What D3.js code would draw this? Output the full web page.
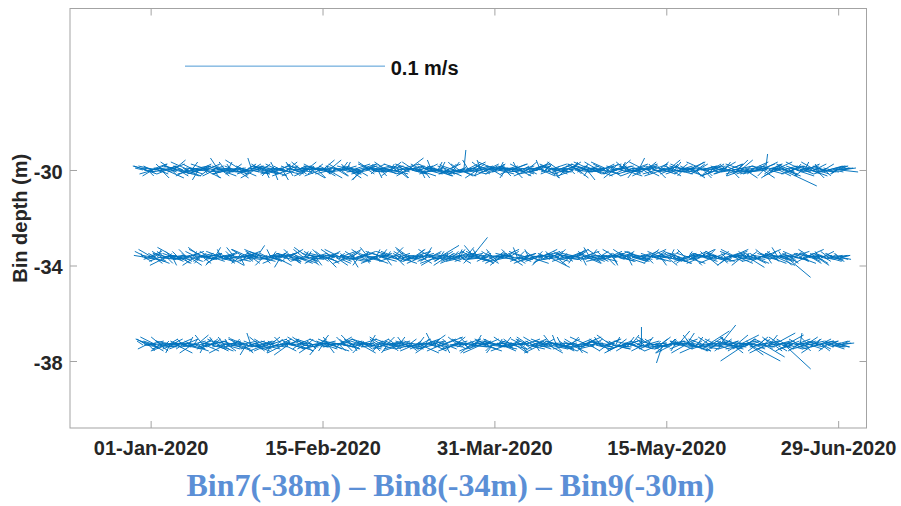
<!DOCTYPE html>
<html>
<head>
<meta charset="utf-8">
<script src="https://cdn.jsdelivr.net/npm/d3@7"></script>
<style>
  body { margin: 0; background: #fff; }
  svg { display: block; }
</style>
</head>
<body>
<svg id="chart" width="901" height="506"></svg>
<script>
// ---- Data -------------------------------------------------------------
// Current vectors (mm/s, east u / north v).
// "_a" arrays hold the 00:00/12:00 UTC samples, "_b" arrays the 06:00/18:00 UTC samples,
// both running every 12 h from sampleStart.
const sampleStart = "2019-12-30T00:00:00Z";
const sampleStepHours = 12;
const sampleOffsetHours = 6;

const binNames = ["Bin7", "Bin8", "Bin9"];
const binNominalDepths = [-38, -34, -30];     // depth named in the caption (m)
const binRowDepths = [-37.33, -33.66, -30];   // depth where each row of sticks is anchored (m)

const depthTicks = [-30, -34, -38];
const dateTicks = ["2020-01-01", "2020-02-15", "2020-03-31", "2020-05-15", "2020-06-29"];

const referenceSpeed = 0.1;                    // m/s, length of the key arrow
const referenceDate = "2020-01-10T00:00:00Z";
const referenceDepth = -25.65;

const bin9U_a = [
  -4, 6, -7, 3, 8, -5, 2, -9, 5, 7, -3, -6, 9, 4, -8, 2, 6, -4, -7, 10,
  3, -5, 8, -2, -9, 6, 4, -6, 11, -3, 5, -8, 2, 7, -4, -10, 6, 3, -5, 8,
  -6, 4, 9, -3, -7, 5, -2, 8, -5, 6, -9, 3, 7, -4, 5, -6, 10, -2, -8, 4,
  6, -3, -5, 9, 2, -7, 4, 8, -6, -2, 7, -9, 5, 3, -4, 6, -8, 11, -3, 5,
  -7, 4, 6, -5, 8, -3, -9, 2, 7, -6, 4, 9, -4, -8, 6, 3, -5, 7, -2, -10,
  8, -4, 5, -7, 3, 9, -6, -3, 6, 4, -8, 2, 10, -5, -4, 7, -9, 5, 3, -6,
  4, -8, 7, 2, -5, 9, -3, -6, 8, -4, 5, -7, 3, 11, -9, 4, -2, 6, -5, 8,
  -3, 7, -6, 5, 9, -4, -8, 3, 6, -5, 10, -2, -7, 4, 8, -6, 2, -9, 5, 7,
  -5, 3, 8, -6, -4, 9, 2, -7, 1, 6, -3, 8, -9, 4, 5, -6, 7, -2, -8, 10,
  6, -4, -7, 5, 3, -9, 8, 2, -5, 7, -3, -6, 9, 4, -8, 5, -2, 6, -7, 3,
  -8, 5, 4, -6, 9, -3, 7, -5, -2, 8, -9, 3, 6, -4, 10, -7, 2, 5, -6, 4,
  7, -3, -8, 6, 2, -5, 9, -4, 5, -7, 3, 8, -6, -2, 7, -9, 4, 6, -5, 11,
  -4, 8, -6, 3, -9, 5, 7, -2, -7, 6, 4, -8, 9, -5, 3, -6, 8, -3, 5, -7,
  9, -5, 3, -8, 6, 4, -6, 10, -3, -7, 5, 2, -9, 7, -4, 6, -5, 3, 8, -6,
  -6, 4, 7, -3, -8, 9, -5, 2, 6, -7, 4, -4, 8, 5, -9, 3, -6, 7, -2, 5,
  5, -9, 3, 7, -4, -6, 8, -5, 4, 10, -7, 3, -3, 6, -8, 5, 2, -6, 9, -4,
  -7, 6, 4, -5, 8, -3, 1, -8, 7, 5, -6, 3, -9, 6, -4, 17, 8, -5, 3, -7,
  6, -4, 9, -6, 3, -8, 5, 7, -3, -5, 8, 4, -7, 6, -2, 9, -5, 3, -6, 7,
  -4, 6, 8, -3, 5, 9, 7
];
const bin9V_a = [
  1, -2, 2, -1, 3, -3, 1, 2, -2, 0, 3, -1, -4, 2, 1, -2, 5, -1, 2, -3,
  -1, 2, -3, 1, 4, -2, 0, 3, -1, -5, 2, 1, -2, 3, -3, 1, 2, -4, 1, -1,
  2, -3, 1, 4, -2, -1, 3, -2, 2, -4, 1, 0, -3, 2, 3, -1, -2, 6, -1, 2,
  -2, 1, 3, -2, -4, 2, 1, -3, 2, 4, -1, -2, 3, -5, 1, 2, -3, 1, 4, -2,
  -3, 2, -1, 4, 1, -3, 2, -2, -4, 1, 3, -1, 2, -3, 5, -2, 1, -4, 2, 1,
  2, -1, -3, 2, 4, -2, 1, 3, -4, -1, 2, -2, 3, 1, -5, 2, -1, 3, -2, 4,
  -1, 3, 2, -4, 1, -2, 3, -1, 2, -3, 4, 1, -2, 3, -1, -4, 2, 1, -3, 2,
  1, -2, 4, -1, -3, 2, 1, -4, 3, 2, -1, 5, -2, 1, -3, 2, 4, -1, -2, 3,
  -2, 3, -1, 2, 4, -3, 1, -2, 10, 3, -1, 4, -2, 1, 3, -4, 2, 5, -1, 2,
  3, -1, 2, -3, 1, 4, -2, 3, -1, 2, -4, 1, 3, -2, 2, -1, 4, -3, 1, 2,
  -1, 4, -2, 1, 3, -3, 2, -1, 5, -2, 1, 3, -4, 2, -1, 3, 2, -2, 4, -1,
  2, -3, 1, 4, -2, 1, -1, 3, -4, 2, 3, -1, 2, -3, 1, 4, -2, 1, -1, 3,
  1, -2, 3, -1, 4, -3, 2, 1, -2, 5, -1, 2, -3, 4, 1, -2, 3, -4, 2, -1,
  3, -1, -2, 4, -3, 2, 1, -1, 3, -2, 4, 1, -3, 2, -1, 5, -2, 3, -1, 2,
  -2, 3, 1, -3, 2, 4, -1, 2, -4, 1, 3, -2, 2, -1, 4, -3, 1, 2, -2, 3,
  1, -3, 2, 4, -1, -2, 3, 1, -4, 2, -1, 3, -2, 5, -3, 1, 2, -2, 4, -1,
  -2, 1, 3, -1, 4, -3, 8, 2, -2, 3, -4, 1, 2, -3, 1, -8, -3, 2, -1, 3,
  2, -1, -3, 2, 1, 4, -2, 3, -1, 2, -3, 1, 4, -2, 3, -1, 2, -3, 1, 2,
  -1, 2, 1, -2, 2, -1, 1
];
const bin9U_b = [
  5, -6, 3, 8, -4, -7, 6, 2, -9, 4, 7, -3, -5, 8, 3, -6, 9, -2, 5, -8,
  -4, 7, 2, -6, 9, 3, -8, 5, -3, 6, -7, 4, 8, -2, -9, 5, 3, -6, 7, -4,
  8, -3, -6, 5, 2, -9, 7, 4, -5, 3, 6, -8, 2, 9, -4, -6, 5, 3, -7, 6,
  -5, 9, 4, -7, 6, -3, -8, 5, 2, 7, -6, 3, -4, 8, -9, 5, 2, -5, 6, -3,
  7, -6, 3, 9, -4, 5, -7, 2, 8, -3, -6, 4, 7, -9, 3, 5, -4, 6, -8, 2,
  -3, 8, -5, 4, 7, -8, 2, 6, -4, 9, 3, -7, 5, -2, 8, -6, 4, 3, -9, 7,
  6, -2, -7, 9, 3, -5, 8, -6, 4, 2, -8, 7, -3, 5, 6, -9, 3, -4, 8, -5,
  4, -9, 6, -3, 7, 2, -6, 5, 8, -4, 3, -7, 9, -5, 2, 6, -8, 4, -3, 7,
  -6, 5, 3, -8, 9, -4, 6, 2, -7, 5, -3, 8, 4, -9, 6, -2, 7, -5, 3, 9,
  -7, 4, 8, -3, 5, -6, 2, 9, -8, 3, 6, -4, -5, 7, 4, -9, 8, 2, -6, 5,
  3, -7, 6, 8, -2, 4, -9, 5, 7, -6, 3, -3, 9, -5, 6, 2, -8, 7, -4, 3,
  -5, 6, -4, 9, 3, -8, 5, 2, -6, 8, -3, 7, 4, -9, 2, 6, -5, 8, -7, 4,
  6, -8, 4, -2, 7, 3, -5, 9, -4, 6, 2, -7, 5, 8, -3, -6, 4, 9, -8, 3,
  -4, 7, -6, 5, 2, -9, 8, 3, -5, 4, 7, -3, 6, -8, 9, -2, 5, -6, 3, 8,
  7, -3, 5, -7, 9, -4, 3, 6, -8, 2, 5, -6, 8, 4, -9, 7, -3, 5, 2, -6,
  -8, 4, -5, 9, 3, -6, 7, -2, 6, -4, 8, 5, -7, 3, -9, 6, 2, -5, 7, -3,
  5, -7, 8, -4, 6, 2, -9, 7, -3, 4, 9, -6, 3, -5, 8, -2, 6, -8, 4, 5,
  -6, 3, 7, -5, 9, -4, 2, 8, -7, 5, -3, 6, 4, -8, 7, -2, 5, -6, 9, 3,
  -4, 5, 6, -3, 7, 4
];
const bin9V_b = [
  -1, 2, -3, 1, 2, -2, 3, -1, 1, -4, 2, 1, -2, 3, -1, 4, -2, 1, -3, 2,
  2, -1, 1, -3, 2, 4, -2, 1, -1, 3, -2, 2, -4, 1, 3, -1, 2, -3, 1, 6,
  -3, 1, 2, -1, 4, -2, 1, 3, -2, 1, -1, 5, -3, 2, 1, -2, 3, -1, -4, 2,
  1, -2, 3, 2, -1, -3, 2, 1, -5, 2, 3, -1, 2, -2, 1, 4, -3, 2, -1, 1,
  2, 3, -2, 1, -1, 4, -3, 2, 1, -2, 3, -4, 1, 2, -1, -3, 2, 5, -2, 1,
  -2, 1, 3, -3, 2, -1, 4, -2, 1, 3, -1, 2, -3, 1, 2, -5, 1, 3, -2, -1,
  3, -2, 1, 2, -3, 1, -1, 4, -2, 3, 1, -2, 2, -4, 1, 3, -1, 2, 6, -2,
  -1, 3, -2, 1, 2, -4, 3, 1, -2, 2, -1, 3, -3, 1, 4, -2, 1, -1, 3, -3,
  2, -1, 4, -2, 1, 3, -3, 2, -1, 1, 5, -2, 3, -1, 2, -3, 1, 4, -2, 1,
  -3, 2, 1, -1, 3, -2, 4, -1, 2, -3, 1, 2, -2, 3, -4, 1, 2, -1, 3, -2,
  1, -3, 2, 3, -1, 2, -2, 4, -3, 1, 2, -1, 3, -2, 1, -4, 2, 3, -1, 2,
  -2, 3, -1, 2, 4, -3, 1, -2, 3, 1, -1, 2, -5, 3, 1, -2, 2, -3, 4, -1,
  3, -1, 2, -2, 1, 3, -4, 2, -1, 2, 4, -3, 1, -1, 3, 2, -2, 1, -3, 6,
  -1, 2, -3, 4, -2, 1, 3, -1, 2, -4, 1, 3, -2, 2, -1, 3, -3, 1, 4, -2,
  2, -2, 1, 3, -3, 2, -1, 4, 1, -2, 3, -1, 2, -4, 1, 2, -2, 3, -1, 1,
  -3, 1, 2, -1, 4, -2, 3, -3, 1, 2, -1, 5, -2, 1, 3, -4, 2, -1, 2, -2,
  1, -2, 3, 2, -4, 1, -1, 3, -2, 2, 4, -3, 1, -1, 2, 3, -2, 1, -3, 2,
  -2, 3, -1, 1, 2, -3, 4, -1, 2, -2, 1, 3, -4, 2, -1, 1, 3, -2, 2, -1,
  1, -1, 2, -2, 1, 1
];

const bin8U_a = [
  -1, 5, -6, 8, 2, -7, 4, -4, 9, 3, -5, 6, -8, 2, 7, -3, 5, -9, 4, 6,
  -5, 3, 7, -4, -8, 6, 2, -6, 9, 4, -3, -7, 5, 8, -2, -5, 10, -4, 3, -6,
  7, -2, -5, 6, 4, -8, 3, 9, -4, -6, 5, 2, -7, 8, -3, 6, -9, 4, 2, -5,
  -6, 8, 3, -4, 7, -9, 5, -2, 6, 4, -7, 9, -3, -5, 8, 2, -6, 7, -4, 3,
  5, -7, 9, -3, -5, 6, 2, -8, 4, 7, -2, -6, 10, -4, 3, -7, 5, 6, -9, 2,
  -4, 6, -3, 8, 5, -6, -2, 7, -8, 3, 9, -5, 4, -3, 6, -7, 2, 8, -4, 5,
  8, -5, 2, -7, 6, 4, -9, 3, -3, 7, -6, 5, 2, -8, 9, -4, 6, -2, -5, 7,
  -3, 9, -6, 4, -2, 7, 5, -8, 3, -5, 6, 8, -4, -7, 2, 10, -3, 5, -6, 4,
  6, -4, 3, -7, 8, 2, -5, 6, -9, 4, 5, -3, 8, -6, 7, -2, -8, 5, 3, -4,
  -7, 5, 8, -3, -6, 4, 9, -5, 2, -8, 6, 3, -4, 7, -9, 5, -2, 6, 4, -7,
  4, -6, -2, 9, 5, -8, 3, 6, -4, -7, 8, 2, -5, 10, -3, -6, 7, 4, -8, 3,
  -5, 7, 3, -6, 9, -2, -7, 5, 4, -9, 2, 8, -4, 6, -3, 7, -8, 3, 5, -6,
  8, -3, -6, 4, 7, -5, 2, 9, -7, 3, -4, 6, 5, -8, 2, -5, 9, -3, 6, -4,
  -6, 4, 7, -8, 3, 5, -2, -6, 8, 4, -9, 3, 6, -4, -5, 7, 2, -7, 9, -3,
  5, -8, 2, 6, -4, 9, -6, 3, 7, -5, -2, 8, -7, 4, 6, -3, 5, -9, 2, 7,
  -4, 6, -7, 3, 8, -2, -5, 9, -3, 6, 4, -8, 7, -6, 3, 5, -4, 8, -2, -7,
  6, -3, 5, -9, 4, 7, -5, 2, -6, 8, 3, -4, 9, -7, 5, -2, 6, 12, -8, 4,
  -5, 7, 3, -6, 8, -4, 2, 9, -3, -7, 5, 4, -8, 6, -2, 7, -5, 3, 8, -4,
  6, -3, 5, 7, -2, 4, 4
];
const bin8V_a = [
  2, -1, 3, -2, 1, 4, -3, 2, -1, -2, 3, 1, -4, 2, -1, 3, -2, 5, 1, -3,
  1, -3, 2, 4, -1, -2, 3, -4, 1, 2, -3, 5, -1, 2, -2, 3, 1, -4, 2, -1,
  -2, 4, -1, 2, -3, 1, 3, -2, 5, -1, 2, -4, 1, 3, -2, -1, 4, -3, 2, 1,
  3, -2, 1, -4, 2, 3, -1, 4, -2, 1, -3, 2, -5, 1, 3, -2, 2, -1, 4, -3,
  -1, 2, -3, 1, 4, -2, 3, -1, -4, 2, 1, -3, 2, 4, -2, 1, -5, 3, -1, 2,
  2, -4, 1, 3, -2, 1, -1, 4, -3, 2, -2, 3, 1, -4, 2, -1, 3, -2, 5, -1,
  -3, 1, 4, -2, 2, -1, 3, -4, 1, 2, -2, 5, -1, 3, -3, 2, 1, -2, 4, -1,
  1, 3, -2, 4, -1, 2, -3, 1, 5, -2, 3, -1, 2, -4, 1, 6, -2, 3, -1, 2,
  -2, 1, 3, -3, 2, 4, -1, 2, -2, 5, 1, -3, 10, 3, -2, 4, -1, 2, 3, -2,
  2, -3, 1, 4, -2, 3, -1, -4, 2, 1, -2, 3, 4, -1, 2, -3, 5, -2, 1, 3,
  -1, 2, 4, -3, 1, -2, 3, 2, -4, 1, 3, -1, 2, -5, 3, 1, -2, 4, -1, 2,
  3, -1, -2, 2, 4, -3, 1, 3, -1, 2, -4, 1, 3, -2, 5, -1, 2, -3, 1, 4,
  -2, 3, 1, -4, 2, 1, -3, 2, 4, -1, 2, -2, 3, 1, -4, 2, -1, 3, -2, 1,
  1, -2, 3, 2, -3, 4, -1, 2, -2, 3, 1, -4, 2, -1, 3, -2, 4, 1, -3, 2,
  -1, 3, -2, 1, 4, -3, 2, -1, 3, -2, 1, 4, -3, 2, -1, 3, -4, 2, 1, -2,
  2, -1, 3, -3, 1, 2, -4, 3, -1, 2, -2, 4, -3, 1, 2, -1, 3, -5, 2, 1,
  -3, 2, 1, -2, 3, -1, 4, -3, 2, 1, -2, 3, -4, 2, -1, 3, -2, -10, 1, -3,
  2, -1, 3, 1, -3, 2, -2, 4, -1, 2, -3, 1, 2, -4, 3, -1, 2, -2, 1, 3,
  -1, 2, -2, 1, 2, -1, 1
];
const bin8U_b = [
  4, -6, 7, -3, 5, 8, -7, 2, -5, 6, 9, -4, 3, -8, 6, 2, -6, 7, -3, 5,
  -7, 4, -2, 8, 6, -5, 3, 9, -6, -3, 7, 4, -8, 5, 2, -9, 6, 3, -5, 8,
  3, -8, 6, 4, -5, 7, -3, -6, 9, 2, -4, 8, 5, -7, 3, 6, -2, -8, 7, 4,
  -6, 5, -9, 3, 7, -4, 6, 2, -7, 8, 4, -5, 3, 9, -6, -2, 7, 5, -8, 3,
  8, -3, 5, -6, 2, 9, -7, 4, 6, -5, 3, -8, 7, 2, -4, 6, -9, 5, 3, -6,
  -5, 7, 3, -8, 6, -2, 9, -4, 5, 3, -7, 6, -3, 8, 4, -6, 2, 9, -5, 4,
  6, -4, -8, 5, 3, 7, -6, 2, 8, -3, 5, -9, 4, 6, -2, 7, -5, 3, 8, -7,
  -4, 6, 9, -5, 2, -7, 4, 8, -3, 6, -6, 3, 7, -8, 5, 2, -4, 9, -6, 3,
  7, -5, 4, 6, -8, 3, 5, -2, 9, -6, 4, 7, -3, -5, 8, 2, -7, 6, 4, -9,
  -3, 8, -5, 2, 7, -6, 4, 9, -4, 3, -8, 5, 6, -2, -7, 8, 3, -5, 7, 2,
  5, -7, 6, 3, -4, 9, -6, 2, 8, -5, 4, -3, 7, 6, -9, 3, 5, -6, 2, 8,
  -6, 3, 8, -4, 6, -7, 5, 2, -8, 9, -3, 4, 7, -5, 3, 6, -2, -8, 5, 4,
  4, -9, 3, 7, -5, 6, 2, -7, 5, 8, -4, 3, -6, 9, 2, -5, 7, -3, 4, 6,
  -8, 5, 2, -6, 9, -3, 7, 4, -5, 6, 3, -7, 8, -2, 5, -9, 4, 6, -3, 7,
  3, -6, 8, -4, 5, 2, -8, 6, 4, -3, 9, -5, 2, 7, -6, 4, 8, -2, -7, 5,
  -5, 8, 4, -7, 3, 6, -4, 9, -2, 5, -8, 7, 3, -5, 6, 2, -9, 4, 7, -3,
  7, -2, 6, -5, 9, 3, -7, 4, 8, -6, 2, 5, -3, 7, -8, 4, 6, -4, 3, 9,
  -4, 6, -7, 5, 2, 8, -5, 3, 7, -6, 4, 9, -3, 5, -8, 6, 2, -5, 7, 3,
  5, -4, 6, 3, -2, 5
];
const bin8V_b = [
  -2, 1, 3, -1, 2, -3, 1, 4, -2, 1, -1, 3, -3, 2, 1, -4, 2, -1, 3, 1,
  1, -2, 2, 3, -4, 1, -1, 2, 3, -2, 1, -3, 4, -1, 2, 1, -2, 5, -3, 2,
  -1, 3, -2, 1, 2, -4, 3, -1, 1, 2, -3, 2, -1, 4, -2, 1, 3, -2, -1, 6,
  2, -1, 4, -3, 1, 2, -2, 3, -1, -4, 2, 1, 3, -2, 1, -1, 4, -3, 2, -2,
  -3, 2, 1, -2, 3, -1, 5, -2, 1, 3, -4, 2, -1, 1, 3, -2, 2, -3, 1, 4,
  1, -3, 2, 4, -1, 2, -2, 1, 3, -5, 1, 2, -1, 3, -2, 4, -3, 1, 2, -1,
  2, -1, -3, 1, 4, -2, 2, 3, -1, 1, -2, 3, -4, 2, 1, -1, 3, -2, 1, 5,
  -2, 4, 1, -1, 2, -3, 3, 1, -2, 2, 4, -1, 1, -3, 2, 3, -2, 1, -4, 2,
  3, -2, 1, 2, -1, 4, -3, 1, 2, -2, 3, 1, -1, 6, -2, 2, 3, -3, 1, -1,
  -1, 2, 3, -2, 1, -3, 2, 4, -1, 1, -2, 3, -4, 2, 1, -1, 3, -2, 2, 1,
  2, -3, 1, -1, 3, 2, -2, 1, 4, -3, 1, -1, 2, 3, -2, 1, -4, 2, 1, -1,
  -2, 1, 3, -3, 2, -1, 4, -2, 1, 3, -1, 2, -3, 1, 4, -2, 1, -1, 3, -2,
  1, -2, 2, 3, -1, 2, -4, 1, 3, -2, 1, -1, 4, -3, 2, 1, -2, 3, -1, 2,
  3, -1, -2, 1, 4, -3, 2, -1, 1, 2, -2, 3, -1, 2, -4, 1, 3, -2, 1, -3,
  -1, 2, 1, -3, 2, 3, -2, 1, -4, 2, 1, -1, 3, -2, 2, 4, -1, 1, -3, 2,
  2, -2, 3, 1, -1, 2, -3, 4, -2, 1, 3, -1, 2, -4, 1, 2, -2, 3, -1, 1,
  -3, 1, 2, -2, 4, -1, 1, 3, -3, 2, -1, 2, 5, -2, 1, -4, 2, 1, -1, 3,
  1, -1, 3, -2, 2, 1, -3, 2, -1, 4, -2, 1, 2, -3, 1, 3, -1, 2, -2, 1,
  -1, 2, 1, -1, 2, -1
];

const bin7U_a = [
  -3, 7, -5, 3, 8, -6, 2, -8, 6, 4, -3, 9, -7, 5, -2, 6, -9, 3, 7, -5,
  5, -3, 8, -6, 2, 9, -4, -7, 6, 3, -8, 5, -2, 10, -5, 4, 7, -6, -3, 8,
  -6, 4, 3, -8, 7, -2, 5, -5, 9, -4, 6, 2, -7, 8, -3, -6, 4, 9, -5, 3,
  7, -5, -3, 6, -8, 4, 9, -2, -6, 5, 3, -9, 7, -4, 6, 2, -7, 8, -3, 5,
  -5, 8, 2, -7, 6, -4, 3, 9, -6, -3, 7, 5, -8, 4, -2, 10, -5, 3, 6, -7,
  4, -6, 7, 3, -9, 5, -3, 6, 8, -5, 2, -7, 4, 9, -4, -6, 5, 3, -8, 6,
  -7, 3, 5, -4, 8, -6, 2, 9, -3, 6, -8, 4, -5, 7, 3, -9, 5, -2, 6, 4,
  6, -4, -7, 8, 3, -5, 9, -3, 5, -6, 4, 7, -8, 2, 6, -4, -7, 10, -3, 5,
  -3, 6, 4, -8, 7, -5, 3, 8, -6, 2, -4, 9, 5, -7, 3, -3, 6, -9, 4, 7,
  5, -7, 8, -3, -5, 6, 2, -9, 7, 4, -6, 3, 8, -4, -2, 6, -8, 5, 3, -6,
  -4, 9, -6, 3, 7, -5, 4, 6, -8, 2, 5, -3, -7, 9, -4, 6, 3, -6, 8, -2,
  7, -3, 5, -8, 4, 6, -5, 3, 9, -7, -2, 6, 4, -9, 5, 3, -6, 8, -4, 2,
  -6, 5, 8, -4, 3, -7, 9, -3, 6, 4, -8, 2, 7, -5, 3, 6, -9, 4, -3, 7,
  4, 0, -6, 7, 3, -5, 8, -4, 6, 2, -7, 5, -3, 9, -6, 4, 3, -8, 6, -3,
  6, -5, 8, 3, -7, 4, 6, -4, 9, -6, 3, 10, -5, 4, -8, 7, 2, -6, 5, 8,
  -5, 7, 8, -6, 4, 9, -3, 6, -8, 5, 3, -7, 10, -4, 6, -12, 4, -6, 15, -3,
  7, -4, 5, 9, -6, 3, -8, 6, 4, -7, 11, -3, 5, 8, -6, 4, 13, -5, 7, -2,
  -6, 8, 4, -5, 1, 7, -3, 6, -8, 4, 5, -6, 9, -3, 6, -7, 4, 8, -4, 5,
  -3, 6, 7, -2, 8, 5, 4
];
const bin7V_a = [
  2, -1, 3, -3, 1, 2, -2, 4, -1, -3, 2, 1, -2, 3, -4, 1, 2, -1, 3, -2,
  -1, 3, -2, 1, 4, -3, 2, -1, 5, -2, 1, 3, -4, 2, -1, 3, -2, 1, 4, -3,
  3, -2, 1, -4, 2, 3, -1, 2, -3, 4, -2, 1, 3, -1, -5, 2, 1, -3, 2, -1,
  -2, 4, -1, 2, -3, 1, 3, -4, 2, -1, 3, -2, 1, 4, -3, 2, -5, 1, 3, -2,
  1, -3, 2, 4, -1, -2, 3, 1, -4, 2, -1, 3, -2, 5, -3, 1, 2, -4, 1, 3,
  -2, 1, 4, -3, 2, -1, 3, -2, 1, 5, -3, 2, -1, 3, -4, 2, 1, -2, 3, -1,
  2, -3, 1, 3, -2, 4, -1, 2, -4, 1, 3, -2, 2, -1, 4, -3, 1, 2, -2, 3,
  -1, 2, -3, 1, 4, -2, 3, -1, 2, -4, 1, 5, -2, 3, -1, 2, -3, 4, 1, -2,
  3, -1, 2, -3, 1, 4, -2, 1, 3, -2, 4, -1, 2, -3, 5, -1, 2, -4, 1, 3,
  -2, 3, 1, -4, 2, -1, 3, 2, -3, 1, 4, -2, 1, 3, -1, -4, 2, 1, -2, 3,
  1, -2, 4, -1, 3, -3, 2, 1, -4, 2, 3, -1, 2, -2, 5, 1, -3, 2, -1, 4,
  -3, 2, 1, -2, 4, -1, 3, -4, 2, 1, -2, 3, -1, 4, -3, 2, 1, -2, 3, -1,
  2, -1, 3, -3, 1, 5, -2, 2, -1, 3, -4, 1, 2, -3, 4, -1, 2, -2, 1, 3,
  -1, 9, -3, 2, 4, -2, 1, 3, -1, 2, -3, 4, -9, 1, -2, 3, 2, -4, 1, 2,
  7, -2, 3, 1, -4, 2, -1, 5, -3, 2, 4, -2, 1, -3, 3, 1, -2, 4, -1, 2,
  -3, 2, 10, -1, 3, -2, 4, -1, 2, -4, 1, 3, 5, -2, 1, -8, 3, -2, -8, 2,
  1, -3, 4, 2, -1, 3, -4, 2, 5, -2, 6, 1, -3, 2, 4, -1, -12, 3, -2, 1,
  -2, 3, 1, -3, 6, 2, -1, 4, -2, 1, 3, -4, 2, -1, 3, 2, -2, 1, -3, 2,
  1, -2, 2, -1, 1, 2, -1
];
const bin7U_b = [
  6, -4, 8, -7, 3, 5, -6, 9, -3, -5, 7, 2, -8, 4, 6, -5, 3, 8, -4, -6,
  -3, 7, -5, 4, 8, -6, 2, 5, -9, 6, 3, -4, 7, -2, 9, -7, 4, -5, 6, 2,
  8, -5, -3, 7, 4, -8, 6, 3, -6, 2, 9, -4, 5, -7, 3, 8, -2, -6, 7, 4,
  -4, 6, 9, -5, 2, -7, 5, 4, -3, 8, -6, 6, 3, -8, 7, -2, 5, 9, -4, -6,
  7, -3, 4, 8, -6, 3, -5, 6, 2, -9, 5, -4, 8, 3, -7, 6, 4, -3, 9, -5,
  -6, 8, -2, 5, 7, -4, 3, -8, 6, 4, -5, 9, -3, 2, 7, -6, 8, -4, 3, 5,
  5, -7, 6, -3, 9, 2, -6, 4, 7, -5, 3, 8, -4, -7, 5, 2, -3, 9, -6, 4,
  -8, 4, 3, -5, 6, 9, -7, 2, -4, 8, 5, -3, 6, -9, 4, 3, 7, -5, 2, -6,
  6, -3, 7, 5, -8, 4, -2, 9, 3, -6, 7, -5, 4, 8, -3, 6, -7, 2, 9, -4,
  -5, 8, -3, 6, 4, -7, 9, -2, 5, 3, -8, 6, -4, 7, 2, -9, 5, 4, -6, 8,
  3, -6, 5, 9, -4, 2, -7, 6, 8, -3, 4, -8, 7, -5, 3, 9, -2, 5, -7, 6,
  -7, 4, 6, -3, 8, -5, 2, 7, -6, 4, 9, -4, 3, -7, 6, 5, -8, 2, 7, -3,
  4, -8, 3, 6, -5, 9, -4, 2, 7, -6, 5, 3, -9, 8, -2, 4, 6, -5, 3, 8,
  -5, 7, -4, 3, 9, -6, 5, 2, -8, 6, 4, -3, 7, -5, 8, 3, -9, 6, -2, 4,
  9, -3, 5, -7, 4, 6, -2, 8, -5, 3, -9, 7, 4, -6, 5, 11, -4, 6, -8, 3,
  -6, 5, 8, -4, 7, -3, 9, 4, -7, 2, 6, -5, 8, 3, -9, 5, -3, 7, 4, -8,
  5, -9, 3, 7, -4, 10, -6, 2, 8, -5, 4, 7, -3, -8, 6, 3, 9, -6, 5, -4,
  -3, 6, 8, -5, 4, -7, 3, 9, -4, 6, -6, 5, 2, -8, 7, 4, -5, 6, 3, -2,
  6, -4, 5, 7, -3, 4
];
const bin7V_b = [
  1, -2, 2, 3, -1, -3, 2, 1, -2, 4, -1, 2, -3, 1, 3, -2, 1, -4, 2, -1,
  -2, 3, 1, -1, 2, -4, 3, -2, 1, 2, -1, 5, -3, 1, 2, -2, 3, 1, -3, 2,
  1, -1, 4, -2, -3, 2, 1, 3, -1, -2, 2, 1, -4, 3, -1, 2, 6, -2, 1, -3,
  -1, 2, -2, 3, 1, -3, 4, -1, 2, 1, -2, 3, -1, -4, 2, 1, 3, -2, 1, 2,
  3, -2, 1, -1, 4, -3, 2, 1, -2, 3, 1, -5, 2, -1, 3, -2, 1, 4, -3, 1,
  -1, 3, -2, 2, -1, 4, -3, 1, 2, -2, 3, 1, -1, 2, -4, 3, -2, 1, 5, -1,
  2, -1, 3, -3, 1, 2, -2, 4, -1, 1, -3, 2, 3, -2, 1, -1, 4, -2, 2, -3,
  -2, 1, 2, -1, 3, -4, 1, 3, -2, 2, -1, 6, -3, 1, 2, -2, 3, -1, -4, 2,
  1, -3, 2, 4, -2, 1, -1, 3, -2, 2, 1, -4, 3, -1, 2, 1, -2, 3, -3, 1,
  2, -1, -3, 2, 1, 3, -2, 1, -1, 4, -3, 2, 1, -2, 3, -1, 2, -4, 1, 3,
  -2, 3, 1, -1, 2, -3, 4, -2, 1, 2, -1, 3, -4, 2, 1, -2, 5, -1, 2, -3,
  1, -2, 3, 2, -4, 1, -1, 3, -2, 1, 4, -3, 2, -1, 1, 3, -2, 2, -1, 4,
  -3, 2, -1, 3, 1, -2, 2, 4, -1, -3, 2, 1, -2, 3, -1, 5, -3, 1, 2, -2,
  2, -1, 3, -2, 1, 4, -3, 1, 2, -1, 3, -2, 1, -4, 2, 3, -1, 2, -3, 1,
  -1, 3, -2, 2, 6, -1, 3, -3, 1, 2, -4, 1, 3, -2, 1, 7, -2, 4, -1, 2,
  3, -2, 1, -3, 2, 4, -1, 2, -2, 1, 5, -3, 2, 1, -2, 3, -1, -5, 2, 1,
  -2, 1, 3, -1, 2, -6, 3, -2, 1, 4, -3, 2, -1, 3, -2, 1, 5, -3, 2, -1,
  1, -2, 2, 3, -1, 1, -3, 2, 4, -2, 1, -1, 3, -2, 2, -3, 1, 2, -1, 2,
  -1, 2, -1, 1, 2, -1
];

const binSeries = [
  { ua: bin7U_a, va: bin7V_a, ub: bin7U_b, vb: bin7V_b },
  { ua: bin8U_a, va: bin8V_a, ub: bin8U_b, vb: bin8V_b },
  { ua: bin9U_a, va: bin9V_a, ub: bin9U_b, vb: bin9V_b }
];

// ---- Layout ------------------------------------------------------------
const plot = { left: 70, top: 8.5, right: 866.5, bottom: 428 };
const stickColor = "#0072BD";
const axisColor = "#a3a3a3";
const textColor = "#262626";
const labelFont = "'Liberation Sans', Arial, Helvetica, sans-serif";

const svg = d3.select("#chart");
svg.append("rect").attr("width", 901).attr("height", 506).attr("fill", "#fff");

const x = d3.scaleUtc()
  .domain([new Date(Date.UTC(2019, 11, 10, 21, 20)), new Date(Date.UTC(2020, 6, 6, 10))])
  .range([plot.left, plot.right]);
const y = d3.scaleLinear()
  .domain([-40.806, -23.236])
  .range([plot.bottom, plot.top]);
// stick length: 0.1 m/s spans 200 px (values are in mm/s)
const speed = d3.scaleLinear().domain([0, 100]).range([0, 200]);

const start = new Date(sampleStart).getTime();
const step = sampleStepHours * 3600 * 1000;
const offset = sampleOffsetHours * 3600 * 1000;

function toRows(u, v, t0) {
  return u.map((ui, i) => ({ t: new Date(t0 + i * step), u: ui, v: v[i] || 0 }));
}

// ---- Sticks ------------------------------------------------------------
const sticksG = svg.append("g")
  .attr("stroke", stickColor)
  .attr("stroke-width", 0.95)
  .attr("stroke-linecap", "butt");

binNames.forEach((name, b) => {
  const s = binSeries[b];
  const rows = toRows(s.ua, s.va, start)
    .concat(toRows(s.ub, s.vb, start + offset))
    .sort((p, q) => p.t - q.t);
  const y0 = y(binRowDepths[b]);
  const dx = d => (d.u >= 0 ? speed(d.u) : -speed(-d.u));
  const dy = d => (d.v >= 0 ? speed(d.v) : -speed(-d.v));
  sticksG.append("g")
    .attr("class", "bin " + name)
    .selectAll("line")
    .data(rows)
    .join("line")
    .attr("x1", d => x(d.t))
    .attr("y1", y0)
    .attr("x2", d => x(d.t) + dx(d))
    .attr("y2", d => y0 - dy(d));
});

// ---- Key arrow -----------------------------------------------------------
const kx = x(new Date(referenceDate));
const ky = y(referenceDepth);
const kLen = speed(referenceSpeed * 1000);
svg.append("line")
  .attr("x1", kx).attr("y1", ky)
  .attr("x2", kx + kLen).attr("y2", ky)
  .attr("stroke", "#3b8fd0")
  .attr("stroke-width", 0.9);
svg.append("text")
  .attr("x", kx + kLen + 5.7)
  .attr("y", ky + 9)
  .attr("font-family", labelFont)
  .attr("font-weight", "bold")
  .attr("font-size", 20)
  .attr("fill", "#111")
  .text(referenceSpeed + " m/s");

// ---- Axes ------------------------------------------------------------
const tickDateValues = dateTicks.map(s => new Date(s + "T00:00:00Z"));
const fmtDate = d3.utcFormat("%d-%b-%Y");

function styleAxis(g, showText) {
  g.select(".domain").remove();
  g.selectAll(".tick line").attr("stroke", axisColor);
  g.selectAll(".tick text")
    .attr("fill", textColor)
    .attr("font-family", labelFont)
    .attr("font-weight", "bold")
    .attr("font-size", 20);
  if (!showText) g.selectAll(".tick text").remove();
}

svg.append("g")
  .attr("transform", `translate(0,${plot.bottom})`)
  .call(d3.axisBottom(x).tickValues(tickDateValues).tickFormat(fmtDate)
    .tickSizeInner(-7).tickSizeOuter(0).tickPadding(12.5))
  .call(g => styleAxis(g, true));

svg.append("g")
  .attr("transform", `translate(0,${plot.top})`)
  .call(d3.axisTop(x).tickValues(tickDateValues).tickSizeInner(-7).tickSizeOuter(0))
  .call(g => styleAxis(g, false));

svg.append("g")
  .attr("transform", `translate(${plot.left},0)`)
  .call(d3.axisLeft(y).tickValues(depthTicks).tickFormat(d => String(d))
    .tickSizeInner(-7).tickSizeOuter(0).tickPadding(7.3))
  .call(g => styleAxis(g, true))
  .call(g => g.selectAll(".tick text").attr("dy", "0.42em"));

svg.append("g")
  .attr("transform", `translate(${plot.right},0)`)
  .call(d3.axisRight(y).tickValues(depthTicks).tickSizeInner(-7).tickSizeOuter(0))
  .call(g => styleAxis(g, false));

// box
svg.append("rect")
  .attr("x", plot.left).attr("y", plot.top)
  .attr("width", plot.right - plot.left).attr("height", plot.bottom - plot.top)
  .attr("fill", "none")
  .attr("stroke", axisColor)
  .attr("stroke-width", 1);

// y-axis label
svg.append("text")
  .attr("transform", `translate(26.7,${(plot.top + plot.bottom) / 2}) rotate(-90)`)
  .attr("text-anchor", "middle")
  .attr("font-family", labelFont)
  .attr("font-weight", "bold")
  .attr("font-size", 20)
  .attr("fill", textColor)
  .text("Bin depth (m)");

// caption below the chart
svg.append("text")
  .attr("x", 450.5)
  .attr("y", 496)
  .attr("text-anchor", "middle")
  .attr("font-family", "'Liberation Serif', 'Times New Roman', serif")
  .attr("font-weight", "bold")
  .attr("font-size", 32)
  .attr("fill", "#5b8fd6")
  .text(binNames.map((n, i) => `${n}(${binNominalDepths[i]}m)`).join(" – "));
</script>
</body>
</html>
